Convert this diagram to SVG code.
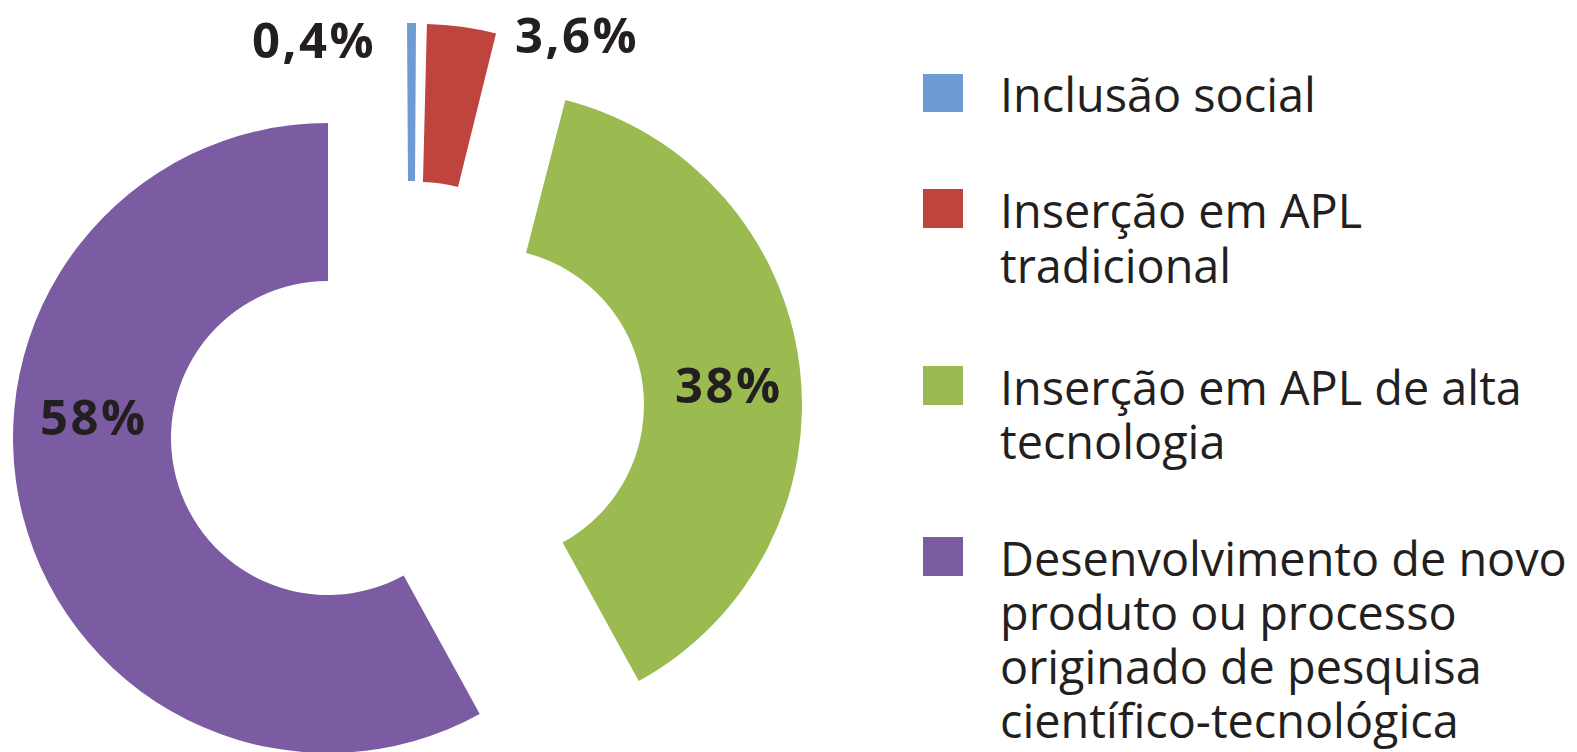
<svg xmlns="http://www.w3.org/2000/svg" width="1577" height="752" viewBox="0 0 1577 752">
<style>
.lbl{font-family:"Open Sans","Liberation Sans",sans-serif;font-weight:700;font-size:49px;letter-spacing:2.5px;fill:#231f20}
.leg{font-family:"Open Sans","Liberation Sans",sans-serif;font-size:46.8px;fill:#231f20}
.blue{fill:#6e9bd2}.red{fill:#c0443e}.green{fill:#9bbb51}.purple{fill:#7b5ca3}
</style>
<rect width="1577" height="752" fill="#ffffff"/>
<g id="chart">
<g id="slice-inclusao">
<path class="blue" d="M407 23 A315 315 0 0 1 416 23.1 L415 181 A157 157 0 0 0 408 181 Z"/>
</g>
<g id="slice-apl-tradicional">
<path class="red" d="M426.92 24.1 A315 315 0 0 1 496 33.5 L458.04 186.93 A157 157 0 0 0 422.95 182.05 Z"/>
</g>
<g id="slice-apl-alta">
<path class="green" d="M565.34 99.9 A315 315 0 0 1 638.75 681.04 L562.64 542.58 A157 157 0 0 0 526.04 252.93 Z"/>
</g>
<g id="slice-desenvolvimento">
<path class="purple" d="M479.75 714.04 A315 315 0 1 1 328 123 L328 281 A157 157 0 1 0 403.64 575.58 Z"/>
</g>
<g id="labels">
<text class="lbl" x="252" y="58">0,4%</text>
<text class="lbl" x="515" y="53">3,6%</text>
<text class="lbl" x="675" y="403">38%</text>
<text class="lbl" x="40" y="435">58%</text>
</g>
</g>
<g id="legend">
<g id="legend-inclusao">
<rect class="blue" x="923" y="74" width="40" height="38"/>
<text class="leg" x="1000" y="112">Inclusão social</text>
</g>
<g id="legend-apl-tradicional">
<rect class="red" x="923" y="189" width="40" height="39"/>
<text class="leg" x="1000" y="228">Inserção em APL<tspan x="1000" dy="55">tradicional</tspan></text>
</g>
<g id="legend-apl-alta">
<rect class="green" x="923" y="366" width="40" height="39"/>
<text class="leg" x="1000" y="405">Inserção em APL de alta<tspan x="1000" dy="54">tecnologia</tspan></text>
</g>
<g id="legend-desenvolvimento">
<rect class="purple" x="923" y="537" width="40" height="39"/>
<text class="leg" x="1000" y="576">Desenvolvimento de novo<tspan x="1000" dy="53.5">produto ou processo</tspan><tspan x="1000" dy="54">originado de pesquisa</tspan><tspan x="1000" dy="54">científico-tecnológica</tspan></text>
</g>
</g>
</svg>
